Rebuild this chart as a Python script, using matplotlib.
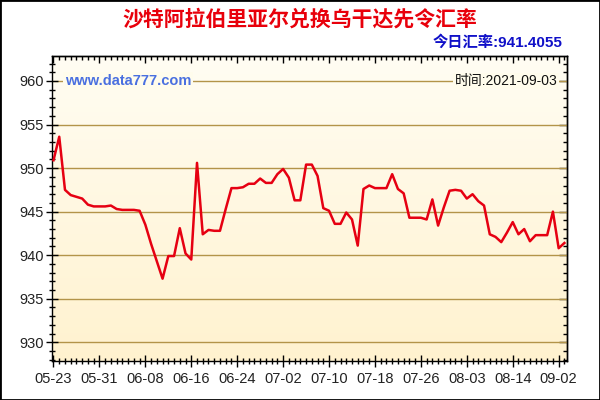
import matplotlib
matplotlib.use("Agg")
import matplotlib.pyplot as plt
import numpy as np
from matplotlib.patches import Rectangle
from matplotlib.ticker import MultipleLocator, FixedLocator, FixedFormatter, NullFormatter
from matplotlib.colors import LinearSegmentedColormap

title = "沙特阿拉伯里亚尔兑换乌干达先令汇率"
today_label = "今日汇率:941.4055"
time_label = "时间:2021-09-03"
site_label = "www.data777.com"

tick_labels = ["05-23", "05-31", "06-08", "06-16", "06-24", "07-02",
               "07-10", "07-18", "07-26", "08-03", "08-14", "09-02"]

rates = [
    950.9, 953.6, 947.5, 946.9, 946.7, 946.5, 945.8, 945.6, 945.6, 945.6,
    945.7, 945.3, 945.2, 945.2, 945.2, 945.1, 943.5, 941.3, 939.3, 937.3,
    939.9, 939.9, 943.1, 940.2, 939.5, 950.6, 942.4, 942.9, 942.8, 942.8,
    945.3, 947.7, 947.7, 947.8, 948.2, 948.2, 948.8, 948.3, 948.3, 949.3,
    949.9, 948.9, 946.3, 946.3, 950.4, 950.4, 949.1, 945.4, 945.1, 943.6,
    943.6, 944.9, 944.1, 941.1, 947.6, 948.0, 947.7, 947.7, 947.7, 949.3,
    947.6, 947.1, 944.3, 944.3, 944.3, 944.1, 946.4, 943.4, 945.5, 947.4,
    947.5, 947.4, 946.5, 947.0, 946.2, 945.7, 942.4, 942.1, 941.5, 942.6,
    943.8, 942.4, 943.0, 941.6, 942.3, 942.3, 942.3, 945.0, 940.8, 941.4,
]

y_major = [930, 935, 940, 945, 950, 955, 960]

fig = plt.figure(figsize=(6, 4), dpi=100, facecolor="white")
ax = fig.add_axes([0.0862, 0.0975, 0.858, 0.7625])

x = np.arange(len(rates))
xmin, xmax = -0.31, len(rates) - 0.63
ymin, ymax = 927.85, 962.87

# background gradient
grad = np.linspace(0, 1, 256).reshape(-1, 1)
cmap = LinearSegmentedColormap.from_list("bg", ["#FFF2CF", "#FFFDF3"])
ax.imshow(grad, aspect="auto", cmap=cmap, origin="lower",
          extent=[xmin, xmax, ymin, ymax], zorder=0)

for yv in y_major:
    ax.axhline(yv, color="#B39449", lw=1.0, zorder=1)

ax.plot(x, rates, color="#E60012", lw=1.8, zorder=3, solid_joinstyle="round")

ax.set_xlim(xmin, xmax)
ax.set_ylim(ymin, ymax)

tick_pos = list(range(0, len(rates), 8))[:len(tick_labels)]
ax.xaxis.set_major_locator(FixedLocator(tick_pos))
ax.xaxis.set_major_formatter(FixedFormatter(tick_labels))
ax.xaxis.set_minor_locator(MultipleLocator(1))
ax.yaxis.set_major_locator(FixedLocator(y_major))
ax.yaxis.set_minor_locator(MultipleLocator(1))

for sp in ax.spines.values():
    sp.set_color("black")
    sp.set_linewidth(1.0)

ax.tick_params(axis="both", which="both", colors="black", width=1.0)
ax.tick_params(axis="both", which="major", direction="inout", length=8,
               labelsize=10.5, labelcolor="#222222", pad=2)
ax.tick_params(axis="both", which="minor", direction="inout", length=5)
ax.tick_params(axis="x", which="major", pad=4)
for lab in ax.get_xticklabels() + ax.get_yticklabels():
    lab.set_fontfamily("Liberation Sans")

# inward ticks on the top and right edges
topx = ax.secondary_xaxis("top")
topx.xaxis.set_major_locator(FixedLocator(tick_pos))
topx.xaxis.set_minor_locator(MultipleLocator(1))
topx.xaxis.set_major_formatter(NullFormatter())
topx.tick_params(which="major", direction="in", length=5, width=1.0)
topx.tick_params(which="minor", direction="in", length=3, width=1.0)
rightY = ax.secondary_yaxis("right")
rightY.yaxis.set_major_locator(FixedLocator(y_major))
rightY.yaxis.set_minor_locator(MultipleLocator(1))
rightY.yaxis.set_major_formatter(NullFormatter())
rightY.tick_params(which="major", direction="in", length=6, width=1.0)
rightY.tick_params(which="minor", direction="in", length=3, width=1.0)
for sec in (topx, rightY):
    for sp in sec.spines.values():
        sp.set_color("black")
        sp.set_linewidth(1.0)

bg_top = "#FFFCEC"
ax.text(0.025, (960 - ymin) / (ymax - ymin), site_label, transform=ax.transAxes,
        ha="left", va="center", fontsize=10.5, fontweight="bold",
        color="#4A70E0", family=["Liberation Sans", "DejaVu Sans"],
        bbox=dict(facecolor=bg_top, edgecolor="none", pad=1.5), zorder=4)
ax.text(0.982, (960 - ymin) / (ymax - ymin), time_label, transform=ax.transAxes,
        ha="right", va="center", fontsize=10, color="#111111",
        family=["Liberation Sans", "Noto Sans CJK SC"],
        bbox=dict(facecolor=bg_top, edgecolor="none", pad=1.0), zorder=4)

fig.text(0.5, 0.953, title, ha="center", va="center", fontsize=15,
         fontweight="bold", color="#E8000B", family=["Noto Sans CJK SC"])
fig.text(0.938, 0.894, today_label, ha="right", va="center", fontsize=11,
         fontweight="bold", color="#1010C8",
         family=["Liberation Sans", "Noto Sans CJK SC"])

fig.patches.append(Rectangle((0, 0), 1, 1, transform=fig.transFigure,
                             fill=False, edgecolor="black", lw=2))

fig.savefig("out.png", dpi=100, facecolor="white")
